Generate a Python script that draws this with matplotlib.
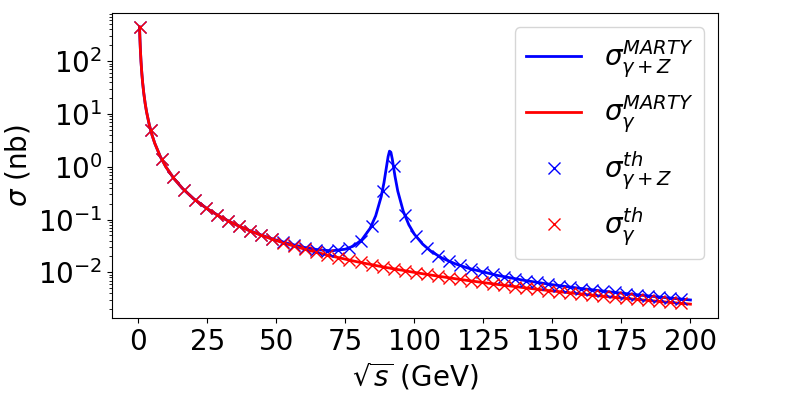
"""Cross section e+e- -> mu+mu-: MARTY curves vs theory points."""

import matplotlib

matplotlib.use("Agg")
import matplotlib.pyplot as plt

# theory points (sqrt(s) in GeV, sigma in nb)
th_sqrt_s = [
    0.474, 4.5, 8.5, 12.5, 16.5, 20.5, 24.5, 28.5, 32.5, 36.5,
    40.5, 44.5, 48.5, 52.5, 56.5, 60.5, 64.5, 68.5, 72.5, 76.5,
    80.5, 84.5, 88.5, 92.5, 96.5, 100.5, 104.5, 108.5, 112.5, 116.5,
    120.5, 124.5, 128.5, 132.5, 136.5, 140.5, 144.5, 148.5, 152.5, 156.5,
    160.5, 164.5, 168.5, 172.5, 176.5, 180.5, 184.5, 188.5, 192.5, 196.5,
]
th_gamma = [
    445, 4.94, 1.38, 0.64, 0.367, 0.238, 0.167, 0.123, 0.0947, 0.0751,
    0.0610, 0.0505, 0.0425, 0.0363, 0.0313, 0.0273, 0.0240, 0.0213, 0.0190, 0.0171,
    0.0154, 0.0140, 0.0128, 0.0117, 0.0107, 0.0099, 0.00916, 0.00849, 0.00790, 0.00737,
    0.00689, 0.00645, 0.00606, 0.00570, 0.00537, 0.00507, 0.00479, 0.00453, 0.00430, 0.00408,
    0.00388, 0.00370, 0.00352, 0.00336, 0.00321, 0.00307, 0.00294, 0.00281, 0.00270, 0.00259,
]
th_gamma_z = [
    445, 4.94, 1.38, 0.64, 0.367, 0.238, 0.167, 0.123, 0.0949, 0.0754,
    0.0615, 0.0511, 0.0433, 0.0374, 0.0328, 0.0294, 0.0270, 0.0258, 0.0260, 0.0292,
    0.0392, 0.0768, 0.345, 1.05, 0.123, 0.0486, 0.0291, 0.0207, 0.0162, 0.0135,
    0.0116, 0.0102, 0.00912, 0.00826, 0.00755, 0.00696, 0.00644, 0.00599, 0.00560, 0.00525,
    0.00494, 0.00466, 0.00440, 0.00417, 0.00396, 0.00376, 0.00358, 0.00341, 0.00326, 0.00312,
]

# MARTY curves
marty_sqrt_s = [
    0.474, 0.6, 0.8, 1, 1.3, 1.6, 2, 2.5, 3, 4, 5, 6, 8, 10, 13, 16, 20,
    25, 30, 35, 40, 45, 50, 55, 60, 65, 70, 75, 78, 81, 84, 86, 88, 89,
    90, 90.5, 91, 91.5, 92, 93, 94, 96, 98, 100, 103, 106, 110, 115, 120,
    130, 140, 150, 160, 170, 180, 190, 200,
]
marty_gamma = [
    445, 278, 156, 100, 59.2, 39.1, 25, 16, 11.1, 6.25, 4.0, 2.78, 1.56, 1.0, 0.592, 0.391, 0.25,
    0.16, 0.111, 0.0816, 0.0625, 0.0494, 0.04, 0.0331, 0.0278, 0.0237, 0.0204, 0.0178, 0.0164, 0.0152, 0.0142, 0.0135, 0.0129, 0.0126,
    0.0123, 0.0122, 0.0121, 0.0119, 0.0118, 0.0116, 0.0113, 0.0109, 0.0104, 0.0100, 0.00943, 0.00890, 0.00826, 0.00756, 0.00694,
    0.00592, 0.00510, 0.00444, 0.00391, 0.00346, 0.00309, 0.00277, 0.00250,
]
marty_gamma_z = [
    445, 278, 156, 100, 59.2, 39.1, 25, 16, 11.1, 6.25, 4.0, 2.78, 1.56, 1.0, 0.592, 0.391, 0.25,
    0.16, 0.111, 0.0818, 0.0629, 0.0500, 0.0409, 0.0345, 0.0298, 0.0269, 0.0256, 0.0275, 0.0316, 0.0416, 0.0685, 0.118, 0.273, 0.501,
    1.07, 1.56, 1.98, 1.89, 1.41, 0.658, 0.346, 0.143, 0.0799, 0.0529, 0.0343, 0.0252, 0.0187, 0.0144, 0.0118,
    0.00878, 0.00702, 0.00584, 0.00498, 0.00431, 0.00379, 0.00336, 0.00300,
]

x_ticks = [0, 25, 50, 75, 100, 125, 150, 175, 200]

plt.rcParams["font.size"] = 20

figure, axes = plt.subplots(figsize=(8, 4), dpi=100)
figure.subplots_adjust(left=0.14, right=0.8975, top=0.967, bottom=0.205)

axes.plot(marty_sqrt_s, marty_gamma_z, color="blue", linewidth=2,
          label=r"$\sigma_{\gamma+Z}^{MARTY}$")
axes.plot(marty_sqrt_s, marty_gamma, color="red", linewidth=2,
          label=r"$\sigma_{\gamma}^{MARTY}$")
axes.plot(th_sqrt_s, th_gamma_z, "x", color="blue", markersize=9,
          label=r"$\sigma_{\gamma+Z}^{th}$")
axes.plot(th_sqrt_s, th_gamma, "x", color="red", markersize=9,
          label=r"$\sigma_{\gamma}^{th}$")

axes.set_yscale("log")
axes.set_xticks(x_ticks)
axes.set_xlabel(r"$\sqrt{s}$ (GeV)")
axes.set_ylabel(r"$\sigma$ (nb)")
axes.legend(fontsize=20)

figure.savefig("out.png", dpi=100)
plt.close(figure)
